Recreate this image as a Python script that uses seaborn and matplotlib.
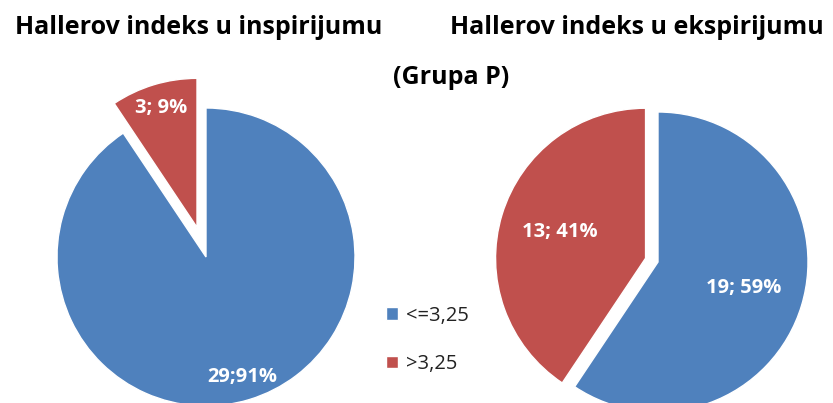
import matplotlib
matplotlib.use("Agg")
import matplotlib.pyplot as plt
import seaborn as sns

groups = ["<=3,25", ">3,25"]
insp_counts = [29, 3]
insp_labels = ["29;91%", "3; 9%"]
eksp_counts = [19, 13]
eksp_labels = ["19; 59%", "13; 41%"]
colors = ["#4F81BD", "#C0504D"]

sns.set_theme(style="white")
plt.rcParams["font.family"] = ["Open Sans", "DejaVu Sans"]

fig = plt.figure(figsize=(8.33, 4.03), dpi=100)
ax = fig.add_axes([0, 0, 1, 1])


def draw_pie(counts, labels, center, radius, explode, labeldist):
    wedges, texts = ax.pie(
        counts, labels=labels, colors=colors, startangle=90, counterclock=False,
        explode=explode, center=center, radius=radius, labeldistance=labeldist,
        wedgeprops=dict(edgecolor="white", linewidth=1), frame=True,
    )
    for t in texts:
        t.set_ha("center")
        t.set_va("center")
        t.set_color("white")
        t.set_fontweight("bold")
        t.set_fontsize(14.5)
    return wedges


# explode is in data units here (1 unit = 1 px)
wedges = draw_pie(insp_counts, insp_labels, (206, 146), 149, [0, 31], 0.84)
draw_pie(eksp_counts, eksp_labels, (658, 141), 150, [0, 13], 0.6)
ax.set_xlim(0, 833)
ax.set_ylim(0, 403)
ax.set_axis_off()

ax.text(199, 375, "Hallerov indeks u inspirijumu", ha="center", va="center",
        fontsize=18, fontweight="bold", color="black")
ax.text(637, 376, "Hallerov indeks u ekspirijumu", ha="center", va="center",
        fontsize=18, fontweight="bold", color="black")
ax.text(451, 326, "(Grupa P)", ha="center", va="center",
        fontsize=18, fontweight="bold", color="black")

ax.legend(wedges, groups, loc="center left", bbox_to_anchor=(368, 63),
          bbox_transform=ax.transData, frameon=False, fontsize=14.5,
          labelspacing=1.4, handlelength=0.6, handleheight=0.6,
          handletextpad=0.4, labelcolor="#222222")

fig.savefig("out.png", dpi=100)
